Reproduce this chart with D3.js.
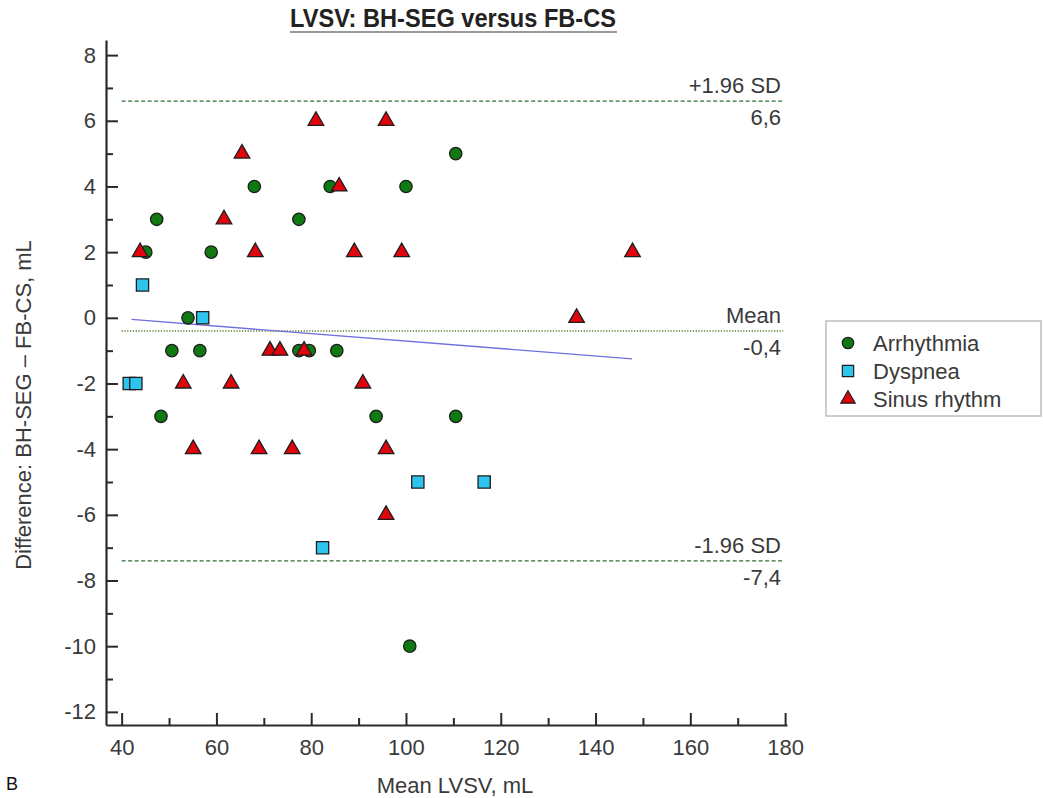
<!DOCTYPE html>
<html>
<head>
<meta charset="utf-8">
<script src="https://cdn.jsdelivr.net/npm/d3@7"></script>
<style>
  html, body { margin: 0; padding: 0; background: #fff; }
  svg { display: block; }
  text { font-family: "Liberation Sans", Arial, sans-serif; fill: #3a3a3a; }
</style>
</head>
<body>
<svg id="chart" width="1043" height="798"></svg>
<script>
// Bland–Altman data: mean LVSV (mL) and difference BH-SEG − FB-CS (mL) per group
const arrhythmiaMean = [45.1, 47.4, 48.3, 50.6, 54.0, 56.5, 58.9, 68.0, 77.4, 77.4, 79.6, 84.0, 85.4, 93.7, 100.0, 100.8, 110.5, 110.5];
const arrhythmiaDiff = [2, 3, -3, -1, 0, -1, 2, 4, 3, -1, -1, 4, -1, -3, 4, -10, -3, 5];

const dyspneaMean = [44.4, 41.6, 43.0, 57.1, 102.5, 116.5, 82.4];
const dyspneaDiff = [1, -2, -2, 0, -5, -5, -7];

const sinusMean = [43.9, 65.4, 61.6, 68.2, 81.0, 85.9, 95.8, 89.1, 99.1, 147.8, 136.0, 71.3, 73.4, 78.5, 53.0, 63.1, 90.9, 55.1, 69.0, 76.0, 95.8, 95.8];
const sinusDiff = [2, 5, 3, 2, 6, 4, 6, 2, 2, 2, 0, -1, -1, -1, -2, -2, -2, -4, -4, -4, -4, -6];

// Limits of agreement and mean difference
const limitNames = ["+1.96 SD", "Mean", "-1.96 SD"];
const limitValues = [6.6, -0.4, -7.4];
const limitLabels = ["6,6", "-0,4", "-7,4"];

// Regression of difference on mean (endpoints over the data range)
const regMean = [42.1, 147.7];
const regDiff = [-0.05, -1.25];

const xMajorTicks = [40, 60, 80, 100, 120, 140, 160, 180];
const xMinorTicks = [50, 70, 90, 110, 130, 150, 170];
const yMajorTicks = [8, 6, 4, 2, 0, -2, -4, -6, -8, -10, -12];
const yMinorTicks = [7, 5, 3, 1, -1, -3, -5, -7, -9, -11];

const groupNames = ["Arrhythmia", "Dyspnea", "Sinus rhythm"];

const svg = d3.select("#chart");

const x = d3.scaleLinear().domain([36.7, 180.4]).range([106, 787]);
const y = d3.scaleLinear().domain([-12.4, 8.46]).range([725, 40]);

const fontSize = 22;

// Title
svg.append("text")
  .attr("x", 453).attr("y", 27)
  .attr("text-anchor", "middle")
  .style("font-family", "'Liberation Sans Narrow', 'Arial Narrow', 'Liberation Sans', sans-serif")
  .style("font-weight", "bold")
  .style("font-size", "25px")
  .attr("textLength", 326)
  .attr("lengthAdjust", "spacingAndGlyphs")
  .style("fill", "#222")
  .text("LVSV: BH-SEG versus FB-CS");
svg.append("line")
  .attr("x1", 290).attr("x2", 617).attr("y1", 32).attr("y2", 32)
  .attr("stroke", "#9a9a9a").attr("stroke-width", 2);

// Axes
function styleAxis(g) {
  g.selectAll(".domain").attr("stroke", "#2a2a2a").attr("stroke-width", 2.2);
  g.selectAll(".tick line").attr("stroke", "#2a2a2a").attr("stroke-width", 2);
  g.selectAll(".tick text")
    .style("font-size", fontSize + "px")
    .style("font-family", "'Liberation Sans', Arial, sans-serif")
    .attr("fill", "#3a3a3a");
}

const yAxisG = svg.append("g").attr("transform", "translate(106,0)")
  .call(d3.axisLeft(y).tickValues(yMajorTicks).tickSizeInner(-12).tickSizeOuter(0).tickPadding(10).tickFormat(d3.format("d")));
styleAxis(yAxisG);
yAxisG.selectAll(".tick text").text(d => d < 0 ? "-" + Math.abs(d) : d);
svg.append("g").attr("transform", "translate(106,0)")
  .call(d3.axisLeft(y).tickValues(yMinorTicks).tickSizeInner(-7).tickSizeOuter(0).tickFormat(""))
  .call(g => { g.select(".domain").remove(); g.selectAll(".tick line").attr("stroke", "#2a2a2a").attr("stroke-width", 2); });

const xAxisG = svg.append("g").attr("transform", "translate(0,725)")
  .call(d3.axisBottom(x).tickValues(xMajorTicks).tickSizeInner(-12).tickSizeOuter(0).tickPadding(14).tickFormat(d3.format("d")));
styleAxis(xAxisG);
svg.append("g").attr("transform", "translate(0,725)")
  .call(d3.axisBottom(x).tickValues(xMinorTicks).tickSizeInner(-7).tickSizeOuter(0).tickFormat(""))
  .call(g => { g.select(".domain").remove(); g.selectAll(".tick line").attr("stroke", "#2a2a2a").attr("stroke-width", 2); });

// Axis titles
svg.append("text")
  .attr("x", 455).attr("y", 793)
  .attr("text-anchor", "middle")
  .style("font-size", fontSize + "px")
  .text("Mean LVSV, mL");
svg.append("text")
  .attr("transform", "translate(31,405) rotate(-90)")
  .attr("text-anchor", "middle")
  .style("font-size", fontSize + "px")
  .text("Difference: BH-SEG \u2013 FB-CS, mL");

// Limits of agreement and mean line
const limitStyles = [
  { stroke: "#2f6e35", dash: "4,2.5", width: 1.3 },
  { stroke: "#4d7a2a", dash: "1.2,1.6", width: 1.4 },
  { stroke: "#2f6e35", dash: "4,2.5", width: 1.3 }
];
limitValues.forEach((v, i) => {
  svg.append("line")
    .attr("x1", x(40)).attr("x2", x(179.6))
    .attr("y1", y(v)).attr("y2", y(v))
    .attr("stroke", limitStyles[i].stroke)
    .attr("stroke-width", limitStyles[i].width)
    .attr("stroke-dasharray", limitStyles[i].dash);
  svg.append("text")
    .attr("x", 781).attr("y", y(v) - 8)
    .attr("text-anchor", "end")
    .style("font-size", fontSize + "px")
    .text(limitNames[i]);
  svg.append("text")
    .attr("x", 781).attr("y", y(v) + 24)
    .attr("text-anchor", "end")
    .style("font-size", fontSize + "px")
    .text(limitLabels[i]);
});

// Regression line
svg.append("line")
  .attr("x1", x(regMean[0])).attr("y1", y(regDiff[0]))
  .attr("x2", x(regMean[1])).attr("y2", y(regDiff[1]))
  .attr("stroke", "#6f6fe0").attr("stroke-width", 1.3);

// Points
const groups = [
  { name: groupNames[0], mean: arrhythmiaMean, diff: arrhythmiaDiff, symbol: d3.symbolCircle, size: 120, fill: "#0f7a12" },
  { name: groupNames[1], mean: dyspneaMean, diff: dyspneaDiff, symbol: d3.symbolSquare, size: 150, fill: "#2ec4ee" },
  { name: groupNames[2], mean: sinusMean, diff: sinusDiff, symbol: d3.symbolTriangle, size: 105, fill: "#e0050d" }
];

groups.forEach(gr => {
  const pts = gr.mean.map((m, i) => ({ m, d: gr.diff[i] }));
  svg.append("g").selectAll("path")
    .data(pts)
    .join("path")
    .attr("d", d3.symbol().type(gr.symbol).size(gr.size))
    .attr("transform", p => `translate(${x(p.m)},${y(p.d)})`)
    .attr("fill", gr.fill)
    .attr("stroke", "#1d1d1d")
    .attr("stroke-width", 1.3);
});

// Legend
const legend = svg.append("g");
legend.append("rect")
  .attr("x", 826).attr("y", 321).attr("width", 215).attr("height", 95)
  .attr("fill", "#fff").attr("stroke", "#bdbdbd").attr("stroke-width", 1.5);
groups.forEach((gr, i) => {
  const cy = 343 + i * 28;
  legend.append("path")
    .attr("d", d3.symbol().type(gr.symbol).size(gr.size * 0.85))
    .attr("transform", `translate(848,${cy})`)
    .attr("fill", gr.fill).attr("stroke", "#1d1d1d").attr("stroke-width", 1.2);
  legend.append("text")
    .attr("x", 873).attr("y", cy + 8)
    .style("font-size", fontSize + "px")
    .text(gr.name);
});

// Panel letter
svg.append("text")
  .attr("x", 6).attr("y", 790)
  .style("font-size", "18px")
  .style("fill", "#111")
  .text("B");
</script>
</body>
</html>
